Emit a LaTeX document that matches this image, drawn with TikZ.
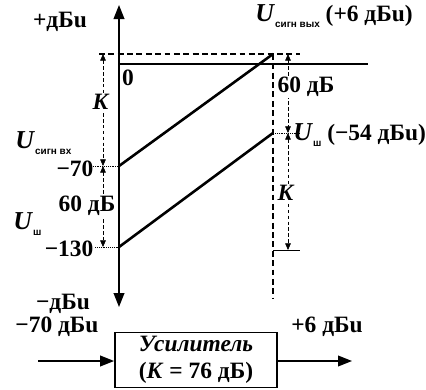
\documentclass[tikz,border=0pt]{standalone}
\usepackage{fontspec}
\setmainfont{Liberation Serif}
\setsansfont{Liberation Sans}
\usetikzlibrary{arrows.meta,positioning}
\newcommand{\Usig}[1]{{\fontsize{22}{22}\selectfont\textit{U}}\raisebox{-0.6ex}{\fontsize{8.5}{9}\selectfont\sffamily\bfseries #1}}
\tikzset{axisline/.style={line width=1.6pt,{Triangle[length=4.2mm,width=3.2mm]}-{Triangle[length=4.2mm,width=3.2mm]}}, levelline/.style={line width=1.8pt}, gainline/.style={line width=2.2pt}, dashline/.style={line width=1.5pt,dash pattern=on 5pt off 3pt}, dimline/.style={line width=.6pt,densely dashed,{Triangle[length=2mm,width=1.7mm]}-{Triangle[length=2mm,width=1.7mm]}}, tickline/.style={line width=.6pt,densely dotted}, lbl/.style={font=\fontsize{20}{22}\selectfont\bfseries,inner sep=1pt}, ampbox/.style={draw,line width=1.5pt,minimum width=4.86cm,minimum height=1.65cm,align=center,font=\fontsize{20}{23}\selectfont\bfseries,inner sep=2pt}, sigarrow/.style={line width=1.5pt,-{Triangle[length=4.2mm,width=3.2mm]}}}
\begin{document}
\begin{tikzpicture}[x=0.03cm,y=-0.03cm]
\useasboundingbox (0,0) rectangle (426,389);
\coordinate (ytop) at (119,5);
\coordinate (ybot) at (119,307);
\coordinate (in70) at (119,166);
\coordinate (in130) at (119,247);
\coordinate (out6) at (273,54);
\coordinate (out54) at (273,133);
\coordinate (lvl0) at (119,64);
\coordinate (lvlend) at (368,64);
\coordinate (dsh0) at (99,54);
\coordinate (dshend) at (300,54);
\coordinate (vbot) at (273,298);
\draw[axisline] (ybot) -- (ytop);
\draw[levelline] (lvl0) -- (lvlend);
\draw[dashline] (dsh0) -- (dshend);
\draw[dashline] (out6) -- (vbot);
\draw[gainline] (in70) -- (out6);
\draw[gainline] (in130) -- (out54);
\draw[tickline] (91,166) -- (in70);
\draw[tickline] (95,247) -- (in130);
\draw[tickline] (out54) -- (300,133);
\draw[line width=.8pt] (273,250) -- (300,250);
\draw[dimline] (103,54) -- (103,166);
\draw[dimline] (103,166) -- (103,247);
\draw[dimline] (288,54) -- (288,133);
\draw[dimline] (288,133) -- (288,250);
\node[lbl] (plus) at (60,22) {+дБu};
\node[lbl] (minus) at (63,304) {−дБu};
\node[lbl] (zero) at (128,78) {0};
\node[lbl] (uout) at (334,16) {\Usig{сигн вых} (+6 дБu)};
\node[lbl,anchor=south west] (uin) at (14,156) {\Usig{сигн вх}};
\node[lbl] (m70) at (75,169) {−70};
\node[lbl,fill=white] (dbl) at (87,206) {60 дБ};
\node[lbl,anchor=south west] (ush) at (12,237) {\Usig{ш}};
\node[lbl] (m130) at (69,249) {−130};
\node[lbl,fill=white] (dbr) at (306,87) {60 дБ};
\node[lbl,anchor=west] (ushr) at (292,135) {\Usig{ш} (−54 дБu)};
\node[lbl,fill=white] (kl) at (101,102) {\textit{K}};
\node[lbl,fill=white] (kr) at (286,193) {\textit{K}};
\node[ampbox] (amp) at (196,360) {\textit{Усилитель}\\(\textit{K} = 76 дБ)};
\node[lbl] (inlbl) at (57,327) {−70 дБu};
\node[lbl] (outlbl) at (327,327) {+6 дБu};
\coordinate (insrc) at (38,361);
\coordinate (outdst) at (352,361);
\draw[sigarrow] (insrc) -- (amp.west |- insrc);
\draw[sigarrow] (amp.east |- outdst) -- (outdst);
\end{tikzpicture}
\end{document}
